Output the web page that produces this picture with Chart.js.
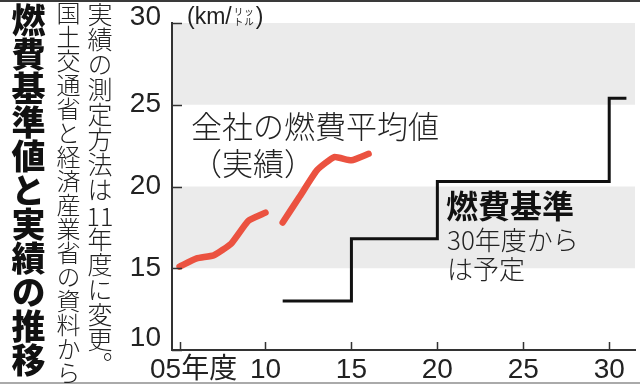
<!DOCTYPE html>
<html lang="ja">
<head>
<meta charset="utf-8">
<title>燃費基準値と実績の推移</title>
<script src="https://cdn.jsdelivr.net/npm/chart.js@4.4.1/dist/chart.umd.min.js"></script>
<style>
  body { margin: 0; background: #fff; }
  #wrap { position: relative; width: 640px; height: 385px; overflow: hidden; font-family: "Noto Sans CJK JP", sans-serif; color: #222; }
  #plotChart { position: absolute; left: 0; top: 0; }
  .topRule { position: absolute; left: 0; top: 0; width: 640px; height: 2px; background: #3a3a3a; }
  .bottomRule { position: absolute; left: 0; top: 382px; width: 640px; height: 2px; background: #aaa; }
  .tate { position: absolute; writing-mode: vertical-rl; line-height: 1; white-space: nowrap; }
  .title { left: 11px; top: 3px; font-size: 34px; font-weight: 900; color: #111; }
  .note1 { left: 87px; top: 2px; font-size: 25px; font-weight: 300; }
  .note2 { left: 56px; top: 1px; font-size: 24px; font-weight: 300; }
  .tcy { text-combine-upright: all; }
  .unit { position: absolute; left: 187px; top: 2px; font-family: "Liberation Sans", sans-serif; font-size: 23px; line-height: 28px; white-space: nowrap; }
  .kana { display: inline-block; font-family: "Noto Sans CJK JP", sans-serif; font-size: 9.5px; line-height: 9.5px; vertical-align: top; margin: 5px 1px 0 2px; letter-spacing: 1px; }
  .label { position: absolute; white-space: nowrap; }
  .avg { left: 191px; top: 106px; font-size: 31px; line-height: 37px; font-weight: 300; }
  .std { left: 446px; top: 186px; font-size: 32px; line-height: 36px; font-weight: 700; color: #111; }
  .stdNote { left: 447px; top: 224px; font-size: 26px; line-height: 29px; font-weight: 300; }
</style>
</head>
<body>
<div id="wrap">
  <canvas id="plotChart" width="640" height="385"></canvas>
  <div class="topRule"></div>
  <div class="bottomRule"></div>
  <div class="tate title">燃費基準値と実績の推移</div>
  <div class="tate note2">国土交通省と経済産業省の資料から</div>
  <div class="tate note1">実績の測定方法は<span class="tcy">11</span>年度に変更。</div>
  <div class="unit">(km/<span class="kana">リッ<br>トル</span>)</div>
  <div class="label avg">全社の燃費平均値<br>（実績）</div>
  <div class="label std">燃費基準</div>
  <div class="label stdNote">30年度から<br>は予定</div>
</div>
<script>
// Fuel economy standard vs. actual average (km/L), fiscal years 2005-2030

// actual average, old measuring method (05-10)
const yearsOld = [5, 6, 7, 8, 9, 10];
const avgOld = [15.1, 15.6, 15.8, 16.5, 17.9, 18.4];
// actual average, new measuring method (11-16)
const yearsNew = [11, 12, 13, 14, 15, 16];
const avgNew = [17.8, 19.4, 21.0, 21.8, 21.6, 22.0];
// fuel economy standard (steps)
const stdYears = [11, 15, 20, 30, 31];
const stdValues = [13.0, 16.8, 20.3, 25.4, 25.4];

// axes
const xTicks = [5, 10, 15, 20, 25, 30];
const xTickLabels = ["\u300005年度", "10", "15", "20", "25", "30"];
const yTicks = [10, 15, 20, 25, 30];
// shaded bands on the value axis
const bands = [[15, 20], [25, 30]];

const toPoints = (xs, ys) => xs.map((x, i) => ({ x: x, y: ys[i] }));

var ctx = document.getElementById("plotChart").getContext("2d");

// gray bands behind everything
const bandPlugin = {
  id: "bands",
  beforeDraw(chart) {
    const { ctx, chartArea, scales } = chart;
    ctx.save();
    ctx.fillStyle = "#ebebeb";
    bands.forEach(([lo, hi]) => {
      const top = scales.y.getPixelForValue(hi);
      const bottom = scales.y.getPixelForValue(lo);
      ctx.fillRect(chartArea.left, top, chartArea.right - chartArea.left, bottom - top);
    });
    ctx.restore();
  },
};

// short tick marks pointing into the plot
const innerTicks = {
  id: "innerTicks",
  afterDraw(chart) {
    const { ctx, chartArea, scales } = chart;
    ctx.save();
    ctx.strokeStyle = "#333";
    ctx.lineWidth = 1.5;
    ctx.beginPath();
    yTicks.forEach((v) => {
      const y = Math.round(scales.y.getPixelForValue(v)) + 0.5;
      ctx.moveTo(chartArea.left, y);
      ctx.lineTo(chartArea.left + 10, y);
    });
    xTicks.forEach((v) => {
      const x = Math.round(scales.x.getPixelForValue(v)) + 0.5;
      ctx.moveTo(x, chartArea.bottom);
      ctx.lineTo(x, chartArea.bottom - 8);
    });
    ctx.stroke();
    ctx.restore();
  },
};

const tickFamily = "'Liberation Sans', 'Noto Sans CJK JP', sans-serif";

// end labels on the value axis sit a little higher than their ticks
const yLabelLift = (value) => (value === 10 ? 24 : value === 30 ? 12 : 0);

var plotChart = new Chart(ctx, {
  type: "line",
  data: {
    datasets: [
      {
        label: "実績（05-10年度）",
        data: toPoints(yearsOld, avgOld),
        borderColor: "#eb5240",
        borderWidth: 6.5,
        borderCapStyle: "round",
        borderJoinStyle: "round",
        tension: 0.15,
        pointRadius: 0,
      },
      {
        label: "実績（11年度-）",
        data: toPoints(yearsNew, avgNew),
        borderColor: "#eb5240",
        borderWidth: 6.5,
        borderCapStyle: "round",
        borderJoinStyle: "round",
        tension: 0.15,
        pointRadius: 0,
      },
      {
        label: "燃費基準",
        data: toPoints(stdYears, stdValues),
        borderColor: "#111",
        borderWidth: 3,
        stepped: "before",
        pointRadius: 0,
      },
    ],
  },
  options: {
    responsive: false,
    animation: false,
    layout: {
      padding: { top: 23, right: 5, left: 0, bottom: 0 },
    },
    plugins: {
      legend: { display: false },
      tooltip: { enabled: false },
    },
    scales: {
      x: {
        type: "linear",
        min: 4.56,
        max: 31.5,
        grid: { display: false, drawTicks: false },
        border: { display: true, color: "#333", width: 2 },
        afterBuildTicks: (scale) => {
          scale.ticks = xTicks.map((v) => ({ value: v }));
        },
        afterFit: (scale) => {
          scale.height = 34;
        },
        ticks: {
          autoSkip: false,
          maxRotation: 0,
          padding: 3,
          color: "#222",
          font: { family: tickFamily, size: 28 },
          callback: (value) => xTickLabels[xTicks.indexOf(value)],
        },
      },
      y: {
        min: 10,
        max: 30,
        grid: { display: false, drawTicks: false },
        border: { display: true, color: "#333", width: 2 },
        afterBuildTicks: (scale) => {
          scale.ticks = yTicks.map((v) => ({ value: v }));
        },
        afterFit: (scale) => {
          scale.width = 172;
        },
        ticks: {
          padding: 11,
          color: "#222",
          font: (c) => {
            const lift = c.tick ? yLabelLift(c.tick.value) : 0;
            return { family: tickFamily, size: 28, lineHeight: lift ? lift + "px" : 1.2 };
          },
          callback: (value) => (yLabelLift(value) ? [String(value), ""] : String(value)),
        },
      },
    },
  },
  plugins: [bandPlugin, innerTicks],
});
</script>
</body>
</html>
